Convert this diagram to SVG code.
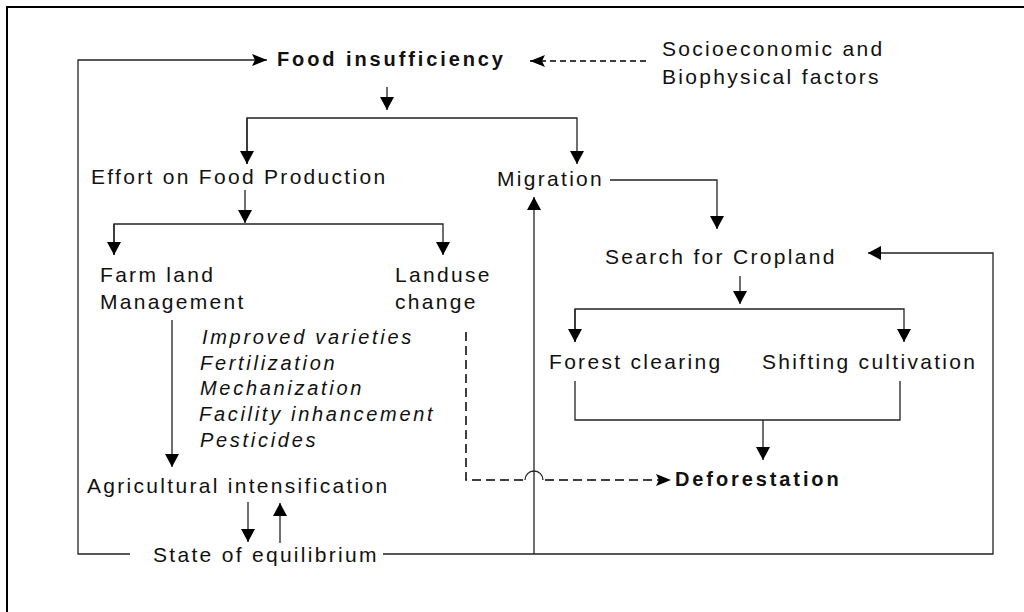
<svg xmlns="http://www.w3.org/2000/svg" width="1024" height="612" viewBox="0 0 1024 612">
<style>
.t{font-family:"Liberation Sans",Arial,sans-serif;font-size:21px;letter-spacing:2.3px;fill:#111}
.b{font-weight:bold;font-size:20px;letter-spacing:2.9px}
.i{font-style:italic;font-size:20px;letter-spacing:2.7px}
.ln{fill:none;stroke:#222;stroke-width:1.3}
.ds{stroke:#000;stroke-width:1.4;stroke-dasharray:6 4}
.dl{stroke:#000;stroke-width:1.5;stroke-dasharray:9 5}
</style>
<defs>
<marker id="tri" viewBox="0 0 13 14" refX="13" refY="7" markerWidth="13" markerHeight="14" orient="auto" markerUnits="userSpaceOnUse"><path d="M0,0 L13,7 L0,14 z" fill="#000"/></marker>
<marker id="stl" viewBox="0 0 15 12" refX="15" refY="6" markerWidth="15" markerHeight="12" orient="auto" markerUnits="userSpaceOnUse"><path d="M0,0 L15,6 L0,12 L3,6 z" fill="#000"/></marker>
</defs>
<rect x="0" y="0" width="1024" height="612" fill="#fff"/>
<path d="M7,612 V7 H1024" fill="none" stroke="#000" stroke-width="2"/>

<g id="connectors">
<path class="ln" d="M130,554 H78 V60 H267" marker-end="url(#stl)"/>
<path class="ln ds" d="M646,61 H530" marker-end="url(#stl)"/>
<path class="ln" d="M387,87 V110" marker-end="url(#tri)"/>
<path class="ln" d="M247,164 V118 H577 V164" marker-end="url(#tri)"/>
<path class="ln" d="M247,118 V164" marker-end="url(#tri)"/>
<path class="ln" d="M610,180 H717 V229" marker-end="url(#tri)"/>
<path class="ln" d="M245,190 V223" marker-end="url(#tri)"/>
<path class="ln" d="M114,255 V224 H443 V255" marker-end="url(#tri)"/>
<path class="ln" d="M114,224 V255" marker-end="url(#tri)"/>
<path class="ln" d="M172,320 V467" marker-end="url(#tri)"/>
<path class="ln" d="M248,502 V542" marker-end="url(#tri)"/>
<path class="ln" d="M280,543 V503" marker-end="url(#tri)"/>
<path class="ln" d="M383,554 H993 V253 H868" marker-end="url(#tri)"/>
<path class="ln" d="M534,554 V197" marker-end="url(#tri)"/>
<path class="ln" d="M740,276 V304" marker-end="url(#tri)"/>
<path class="ln" d="M575,342 V309 H904 V342" marker-end="url(#tri)"/>
<path class="ln" d="M575,309 V342" marker-end="url(#tri)"/>
<path class="ln" d="M575,381 V420 H900 V381"/>
<path class="ln" d="M763,420 V460" marker-end="url(#tri)"/>
<path class="ln dl" d="M466,332 V480 H525"/>
<path class="ln" d="M525,480 A9,9 0 0 1 543,480" stroke="#000" stroke-width="1.4"/>
<path class="ln dl" d="M545,480 H671" marker-end="url(#stl)"/>
</g>

<g id="food"><text class="t b" x="277" y="66">Food insufficiency</text></g>
<g id="socio"><text class="t" x="662" y="56">Socioeconomic and</text><text class="t" x="662" y="84">Biophysical factors</text></g>
<g id="effort"><text class="t" x="91" y="184">Effort on Food Production</text></g>
<g id="migration"><text class="t" x="497" y="186">Migration</text></g>
<g id="farm"><text class="t" x="100" y="282">Farm land</text><text class="t" x="100" y="309">Management</text></g>
<g id="landuse"><text class="t" x="395" y="282">Landuse</text><text class="t" x="395" y="309">change</text></g>
<g id="measures">
<text class="t i" x="202" y="344">Improved varieties</text>
<text class="t i" x="200" y="370">Fertilization</text>
<text class="t i" x="200" y="395">Mechanization</text>
<text class="t i" x="199" y="421">Facility inhancement</text>
<text class="t i" x="200" y="447">Pesticides</text>
</g>
<g id="agri"><text class="t" x="87" y="493">Agricultural intensification</text></g>
<g id="equilibrium"><text class="t" x="153" y="562">State of equilibrium</text></g>
<g id="search"><text class="t" x="605" y="264">Search for Cropland</text></g>
<g id="forest"><text class="t" x="549" y="369">Forest clearing</text></g>
<g id="shifting"><text class="t" x="762" y="369">Shifting cultivation</text></g>
<g id="deforestation"><text class="t b" x="675" y="486">Deforestation</text></g>
</svg>
